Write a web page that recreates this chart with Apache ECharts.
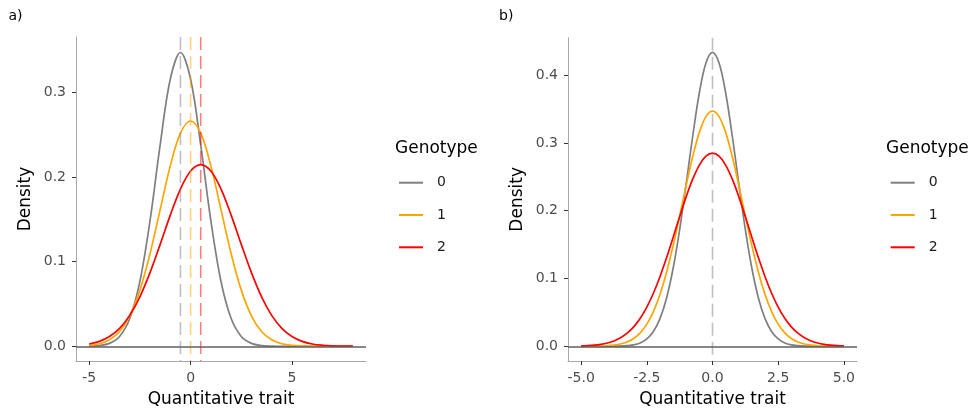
<!DOCTYPE html>
<html>
<head>
<meta charset="utf-8">
<script src="https://cdn.jsdelivr.net/npm/echarts@6/dist/echarts.min.js"></script>
<style>
  html, body { margin: 0; padding: 0; background: #fff; }
  #chart { width: 978px; height: 409px; }
</style>
</head>
<body>
<div id="chart"></div>
<script>
// Genotype groups shown in both panels
const genotypes = ['0', '1', '2'];
const genoColors = ['#7f7f7f', '#ffa500', '#ff0000'];

// Panel a) – trait values and density per genotype (means shift with genotype)
const xA = [-5, -4.5, -4, -3.5, -3, -2.5, -2, -1.5, -1, -0.5, 0, 0.5, 1, 1.5, 2, 2.5, 3, 3.5, 4, 4.5, 5, 5.5, 6, 6.5, 7, 7.5, 8];
const densA0 = [0.0002, 0.0008, 0.0034, 0.0116, 0.0327, 0.0765, 0.1482, 0.2377, 0.3156, 0.3469, 0.3156, 0.2377, 0.1482, 0.0765, 0.0327, 0.0116, 0.0034, 0.0008, 0.0002, 0, 0, 0, 0, 0, 0, 0, 0];
const densA1 = [0.0010, 0.0030, 0.0076, 0.0175, 0.0360, 0.0663, 0.1093, 0.1613, 0.2130, 0.2516, 0.2660, 0.2516, 0.2130, 0.1613, 0.1093, 0.0663, 0.0360, 0.0175, 0.0076, 0.0030, 0.0010, 0.0003, 0.0001, 0, 0, 0, 0];
const densA2 = [0.0027, 0.0058, 0.0115, 0.0212, 0.0365, 0.0584, 0.0869, 0.1203, 0.1549, 0.1856, 0.2069, 0.2145, 0.2069, 0.1856, 0.1549, 0.1203, 0.0869, 0.0584, 0.0365, 0.0212, 0.0115, 0.0058, 0.0027, 0.0012, 0.0005, 0.0002, 0.0001];
const meansA = [-0.5, 0, 0.5];

// Panel b) – same mean, variance grows with genotype
const xB = [-5, -4.75, -4.5, -4.25, -4, -3.75, -3.5, -3.25, -3, -2.75, -2.5, -2.25, -2, -1.75, -1.5, -1.25, -1, -0.75, -0.5, -0.25, 0,
            0.25, 0.5, 0.75, 1, 1.25, 1.5, 1.75, 2, 2.25, 2.5, 2.75, 3, 3.25, 3.5, 3.75, 4, 4.25, 4.5, 4.75, 5];
const densB0 = [0, 0, 0, 0, 0, 0.0001, 0.0003, 0.0009, 0.0021, 0.0050, 0.0108, 0.0218, 0.0408, 0.0710, 0.1148, 0.1723, 0.2402, 0.3110, 0.3741, 0.4179, 0.4336,
                0.4179, 0.3741, 0.3110, 0.2402, 0.1723, 0.1148, 0.0710, 0.0408, 0.0218, 0.0108, 0.0050, 0.0021, 0.0009, 0.0003, 0.0001, 0, 0, 0, 0, 0];
const densB1 = [0, 0.0001, 0.0002, 0.0004, 0.0008, 0.0017, 0.0034, 0.0064, 0.0116, 0.0199, 0.0327, 0.0512, 0.0765, 0.1090, 0.1482, 0.1921, 0.2377, 0.2804, 0.3156, 0.3388, 0.3469,
                0.3388, 0.3156, 0.2804, 0.2377, 0.1921, 0.1482, 0.1090, 0.0765, 0.0512, 0.0327, 0.0199, 0.0116, 0.0064, 0.0034, 0.0017, 0.0008, 0.0004, 0.0002, 0.0001, 0];
const densB2 = [0.0005, 0.0009, 0.0016, 0.0028, 0.0048, 0.0079, 0.0125, 0.0193, 0.0287, 0.0414, 0.0579, 0.0783, 0.1027, 0.1305, 0.1605, 0.1913, 0.2208, 0.2469, 0.2674, 0.2805, 0.2850,
                0.2805, 0.2674, 0.2469, 0.2208, 0.1913, 0.1605, 0.1305, 0.1027, 0.0783, 0.0579, 0.0414, 0.0287, 0.0193, 0.0125, 0.0079, 0.0048, 0.0028, 0.0016, 0.0009, 0.0005];
const meansB = [0];

// Tick positions and labels
const xTicksA = [-5, 0, 5];
const yTicksA = [0, 0.1, 0.2, 0.3];
const xTicksB = [-5, -2.5, 0, 2.5, 5];
const yTicksB = [0, 0.1, 0.2, 0.3, 0.4];

// Axis ranges: data range padded by 5% on each side
const rangeA = { xmin: -5.65, xmax: 8.65, ymin: -0.0174, ymax: 0.3652 };
const rangeB = { xmin: -5.5, xmax: 5.5, ymin: -0.0217, ymax: 0.4553 };

const FONT = "'DejaVu Sans', 'Liberation Sans', sans-serif";

function zip(xs, ys) { return xs.map((x, i) => [x, ys[i]]); }

function fadeColor(hex, a) {
  const r = parseInt(hex.slice(1, 3), 16), g = parseInt(hex.slice(3, 5), 16), b = parseInt(hex.slice(5, 7), 16);
  return `rgba(${r},${g},${b},${a})`;
}

function xAxisFor(gridIndex, range, ticks) {
  return {
    type: 'value', gridIndex, min: range.xmin, max: range.xmax,
    name: 'Quantitative trait', nameLocation: 'middle', nameGap: 30,
    nameTextStyle: { fontSize: 17, color: '#000', fontFamily: FONT },
    splitLine: { show: false },
    axisLine: { show: true, onZero: false, lineStyle: { color: '#a8a8a8', width: 1 } },
    axisTick: { show: true, customValues: ticks, length: 4, lineStyle: { color: '#333', width: 1 } },
    axisLabel: {
      customValues: ticks, margin: 10, fontSize: 14, color: '#4d4d4d', fontFamily: FONT,
      formatter: v => ticks.some(t => !Number.isInteger(t)) ? v.toFixed(1) : String(v)
    }
  };
}

function yAxisFor(gridIndex, range, ticks) {
  return {
    type: 'value', gridIndex, min: range.ymin, max: range.ymax,
    name: 'Density', nameLocation: 'middle', nameGap: 42,
    nameTextStyle: { fontSize: 17, color: '#000', fontFamily: FONT },
    splitLine: { show: false },
    axisLine: { show: true, onZero: false, lineStyle: { color: '#a8a8a8', width: 1 } },
    axisTick: { show: true, customValues: ticks, length: 4, lineStyle: { color: '#333', width: 1 } },
    axisLabel: {
      customValues: ticks, margin: 10, fontSize: 14, color: '#4d4d4d', fontFamily: FONT,
      formatter: v => v.toFixed(1)
    }
  };
}

function panelSeries(axisIndex, xs, dens, means, range) {
  const out = [];
  // baseline at zero density
  out.push({
    type: 'line', name: 'baseline', xAxisIndex: axisIndex, yAxisIndex: axisIndex, data: [], z: 1,
    silent: true,
    markLine: {
      silent: true, symbol: 'none', animation: false,
      label: { show: false },
      lineStyle: { color: '#5f5f5f', width: 1.6, type: 'solid' },
      data: [{ yAxis: 0 }]
    }
  });
  dens.forEach((d, i) => {
    out.push({
      type: 'line', name: genotypes[i], xAxisIndex: axisIndex, yAxisIndex: axisIndex,
      data: zip(xs, d), showSymbol: false, symbol: 'none', smooth: 0.35, z: 2,
      itemStyle: { color: genoColors[i] },
      lineStyle: { color: genoColors[i], width: 1.7 }
    });
  });
  // dashed vertical lines at the group means
  means.forEach((m, i) => {
    out.push({
      type: 'line', name: 'mean ' + genotypes[i], xAxisIndex: axisIndex, yAxisIndex: axisIndex,
      data: [[m, range.ymax], [m, range.ymin]], showSymbol: false, symbol: 'none', z: 3, silent: true,
      lineStyle: { color: fadeColor(genoColors[i], 0.5), width: 1.6, type: [13, 6] }
    });
  });
  return out;
}

function legendAt(left) {
  return {
    orient: 'vertical', left, top: 174.7, padding: 0, data: genotypes,
    icon: 'rect', itemWidth: 24, itemHeight: 2, itemGap: 16.3,
    selectedMode: false,
    textStyle: { fontSize: 14, color: '#1a1a1a', fontFamily: FONT, lineHeight: 16, padding: [0, 0, 0, 9] }
  };
}

const chart = echarts.init(document.getElementById('chart'), null, { renderer: 'canvas' });
chart.setOption({
  animation: false,
  backgroundColor: '#fff',
  textStyle: { fontFamily: FONT },
  grid: [
    { left: 76, top: 37, width: 290, height: 324, containLabel: false, outerBoundsMode: 'none' },
    { left: 568, top: 37.7, width: 289, height: 323.3, containLabel: false, outerBoundsMode: 'none' }
  ],
  xAxis: [xAxisFor(0, rangeA, xTicksA), xAxisFor(1, rangeB, xTicksB)],
  yAxis: [yAxisFor(0, rangeA, yTicksA), yAxisFor(1, rangeB, yTicksB)],
  legend: [legendAt(399), legendAt(890.7)],
  graphic: [
    { type: 'text', left: 8.5, top: 8.9, style: { text: 'a)', fontSize: 14, fill: '#000', fontFamily: FONT } },
    { type: 'text', left: 499, top: 8.9, style: { text: 'b)', fontSize: 14, fill: '#000', fontFamily: FONT } },
    { type: 'text', left: 395, top: 139.9, style: { text: 'Genotype', fontSize: 17, fill: '#000', fontFamily: FONT } },
    { type: 'text', left: 886, top: 139.9, style: { text: 'Genotype', fontSize: 17, fill: '#000', fontFamily: FONT } }
  ],
  series: [
    ...panelSeries(0, xA, [densA0, densA1, densA2], meansA, rangeA),
    ...panelSeries(1, xB, [densB0, densB1, densB2], meansB, rangeB)
  ]
});
</script>
</body>
</html>
